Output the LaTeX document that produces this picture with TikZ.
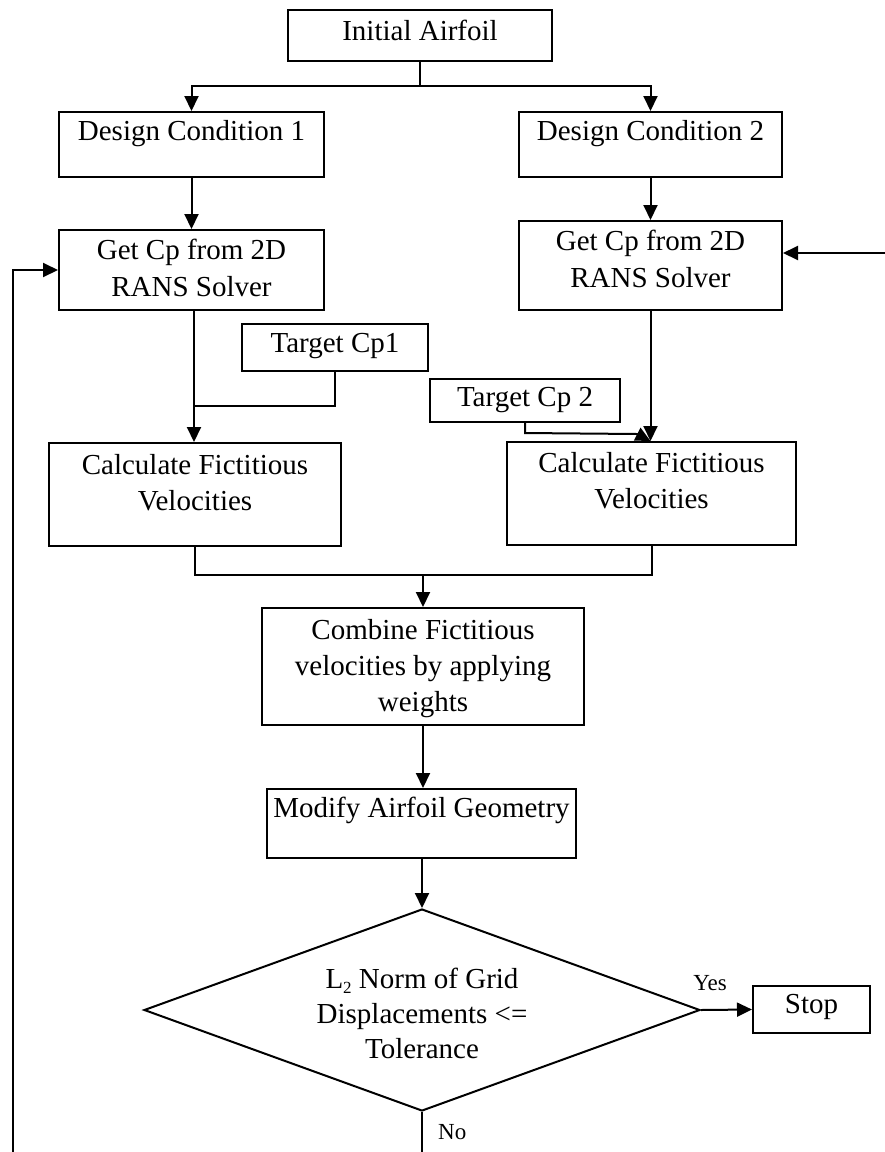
\documentclass[tikz,border=0pt]{standalone}
\usepackage{fontspec}
\setmainfont{Liberation Serif}
\usetikzlibrary{arrows.meta,shapes.geometric}
\begin{document}
\begin{tikzpicture}[x=1pt,y=-1pt,
  box/.style={draw, line width=2pt, inner sep=0pt},
  txt/.style={anchor=base, inner sep=0pt, font=\fontsize{29pt}{36pt}\selectfont},
  lbl/.style={anchor=base, inner sep=0pt, font=\fontsize{23pt}{28pt}\selectfont},
  conn/.style={line width=2pt},
  arr/.style={conn, -{Triangle[length=15pt,width=14pt]}}]
\useasboundingbox (0,0) rectangle (885,1152);

% boxes
\node[box, minimum width=264pt, minimum height=51pt] (init) at (420,35.5) {};
\node[box, minimum width=265pt, minimum height=65pt] (dc1) at (191.5,144.5) {};
\node[box, minimum width=263pt, minimum height=65pt] (dc2) at (650.5,144.5) {};
\node[box, minimum width=265pt, minimum height=80pt] (gc1) at (191.5,270) {};
\node[box, minimum width=263pt, minimum height=89pt] (gc2) at (650.5,265.5) {};
\node[box, minimum width=186pt, minimum height=47pt] (tcp1) at (335,347.5) {};
\node[box, minimum width=190pt, minimum height=43pt] (tcp2) at (525,400.5) {};
\node[box, minimum width=292pt, minimum height=103pt] (calc1) at (195,494.5) {};
\node[box, minimum width=289pt, minimum height=103pt] (calc2) at (651.5,493.5) {};
\node[box, minimum width=322pt, minimum height=117pt] (comb) at (423,666.5) {};
\node[box, minimum width=309pt, minimum height=69pt] (mod) at (421.5,823.5) {};
\node[box, diamond, minimum width=556pt, minimum height=202pt] (dia) at (422,1010) {};
\node[box, minimum width=117pt, minimum height=47pt] (stop) at (811.5,1009.5) {};

% texts
\node[txt] (tinit) at (420,40) {Initial Airfoil};
\node[txt] (tdc1) at (191.5,140) {Design Condition 1};
\node[txt] (tdc2) at (650.5,140) {Design Condition 2};
\node[txt] (tgc1a) at (191.5,259) {Get Cp from 2D};
\node[txt] (tgc1b) at (191.5,296) {RANS Solver};
\node[txt] (tgc2a) at (650.5,250) {Get Cp from 2D};
\node[txt] (tgc2b) at (650.5,287) {RANS Solver};
\node[txt] (ttcp1) at (335,352) {Target Cp1};
\node[txt] (ttcp2) at (525,406) {Target Cp 2};
\node[txt] (tc1a) at (195,474) {Calculate Fictitious};
\node[txt] (tc1b) at (195,510) {Velocities};
\node[txt] (tc2a) at (651.5,472) {Calculate Fictitious};
\node[txt] (tc2b) at (651.5,508) {Velocities};
\node[txt] (tcoa) at (423,639) {Combine Fictitious};
\node[txt] (tcob) at (423,675) {velocities by applying};
\node[txt] (tcoc) at (423,711) {weights};
\node[txt] (tmod) at (421.5,817) {Modify Airfoil Geometry};
\node[txt] (tdia1) at (422,988) {L\raisebox{-5pt}{\fontsize{17pt}{17pt}\selectfont 2} Norm of Grid};
\node[txt] (tdia2) at (422,1023) {Displacements <=};
\node[txt] (tdia3) at (422,1058) {Tolerance};
\node[txt] (tstop) at (811.5,1013) {Stop};
\node[lbl] (yes) at (710,990) {Yes};
\node[lbl, anchor=base west] (no) at (438,1139) {No};

% coordinates
\coordinate (j0) at (420,86);
\coordinate (j1) at (194,406);
\coordinate (j3) at (423,575);
\coordinate (nob) at (422,1152);
\coordinate (fbl) at (13,1152);
\coordinate (rin) at (885,253);

% connectors
\draw[conn] (init.south) -- (j0);
\draw[arr] (j0) -| (dc1.north);
\draw[arr] (j0) -| (dc2.north);
\draw[arr] (dc1.south) -- (gc1.north);
\draw[arr] (dc2.south) -- (gc2.north);
\draw[conn] (gc1.south -| j1) -- (j1);
\draw[conn] (tcp1.south) |- (j1);
\draw[arr] (j1) -- (j1 |- calc1.north);
\draw[arr] (gc2.south) -- (gc2.south |- calc2.north);
\draw[arr] (tcp2.south) -- ++(0,10) -- ++(112,1) -- (gc2.south |- calc2.north);
\draw[conn] (calc1.south) |- (calc2.south |- j3) -- (calc2.south);
\draw[arr] (j3) -- (comb.north);
\draw[arr] (comb.south) -- (comb.south |- mod.north);
\draw[arr] (mod.south -| dia.north) -- (dia.north);
\draw[arr] (dia.east) -- (stop.west);
\draw[conn] (dia.south) -- (nob);
\draw[arr] (fbl) |- (gc1.west);
\draw[arr] (rin) -- (rin -| gc2.east);
\end{tikzpicture}
\end{document}
